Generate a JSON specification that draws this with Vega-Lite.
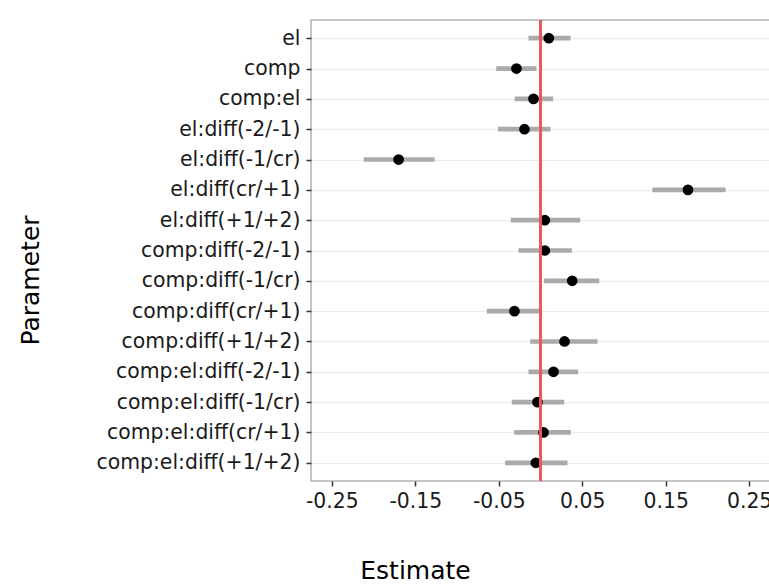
{
  "$schema": "https://vega.github.io/schema/vega-lite/v6.json",
  "width": 459,
  "height": 461,
  "padding": {"left": 18, "top": 19, "right": 0, "bottom": 0},
  "background": "white",
  "data": {
    "values": [
      {"param": "el", "est": 0.010, "lo": -0.0144, "hi": 0.036},
      {"param": "comp", "est": -0.0288, "lo": -0.053, "hi": -0.0048},
      {"param": "comp:el", "est": -0.0084, "lo": -0.031, "hi": 0.0152},
      {"param": "el:diff(-2/-1)", "est": -0.0192, "lo": -0.051, "hi": 0.012},
      {"param": "el:diff(-1/cr)", "est": -0.170, "lo": -0.2119, "hi": -0.127},
      {"param": "el:diff(cr/+1)", "est": 0.1767, "lo": 0.134, "hi": 0.2218},
      {"param": "el:diff(+1/+2)", "est": 0.0052, "lo": -0.0356, "hi": 0.0476},
      {"param": "comp:diff(-2/-1)", "est": 0.0052, "lo": -0.0264, "hi": 0.0376},
      {"param": "comp:diff(-1/cr)", "est": 0.038, "lo": 0.004, "hi": 0.0704},
      {"param": "comp:diff(cr/+1)", "est": -0.0312, "lo": -0.0644, "hi": 0.002},
      {"param": "comp:diff(+1/+2)", "est": 0.0288, "lo": -0.0124, "hi": 0.0684},
      {"param": "comp:el:diff(-2/-1)", "est": 0.0156, "lo": -0.0144, "hi": 0.0452},
      {"param": "comp:el:diff(-1/cr)", "est": -0.0036, "lo": -0.0344, "hi": 0.0284},
      {"param": "comp:el:diff(cr/+1)", "est": 0.0036, "lo": -0.0316, "hi": 0.0364},
      {"param": "comp:el:diff(+1/+2)", "est": -0.0056, "lo": -0.0424, "hi": 0.0324}
    ]
  },
  "encoding": {
    "y": {
      "field": "param",
      "type": "nominal",
      "sort": null,
      "scale": {"type": "point", "padding": 0.6},
      "axis": {
        "title": "Parameter",
        "grid": true,
        "gridColor": "#ebebeb",
        "gridWidth": 1.2,
        "labelPadding": 6,
        "titlePadding": 68,
        "titleY": 260,
        "labelLimit": 400
      }
    },
    "x": {
      "field": "est",
      "type": "quantitative",
      "scale": {"domain": [-0.275, 0.275], "nice": false, "zero": false},
      "axis": {
        "title": "Estimate",
        "grid": false,
        "values": [-0.25, -0.15, -0.05, 0.05, 0.15, 0.25],
        "labelExpr": "'' + datum.value",
        "labelFlush": false,
        "labelOverlap": false,
        "labelPadding": 5,
        "titlePadding": 47,
        "titleX": 104
      }
    }
  },
  "layer": [
    {
      "mark": {"type": "rule", "color": "#aaaaaa", "strokeWidth": 4.7, "strokeCap": "butt"},
      "encoding": {
        "x": {"field": "lo", "type": "quantitative"},
        "x2": {"field": "hi"}
      }
    },
    {
      "mark": {"type": "circle", "color": "#000000", "opacity": 1, "size": 115}
    },
    {
      "mark": {"type": "rule", "color": "#eb5a5a", "strokeWidth": 1.5},
      "encoding": {
        "x": {"datum": 0, "type": "quantitative"},
        "y": null
      }
    }
  ],
  "config": {
    "font": "DejaVu Sans",
    "view": {"stroke": "#b3b3b3", "strokeWidth": 1.5},
    "axis": {
      "labelFont": "DejaVu Sans",
      "labelFontSize": 20.4,
      "labelColor": "#1a1a1a",
      "titleFont": "DejaVu Sans",
      "titleFontSize": 25,
      "titleFontWeight": "normal",
      "titleColor": "#000000",
      "tickColor": "#333333",
      "tickSize": 5,
      "tickWidth": 1.5,
      "domain": false
    }
  }
}
